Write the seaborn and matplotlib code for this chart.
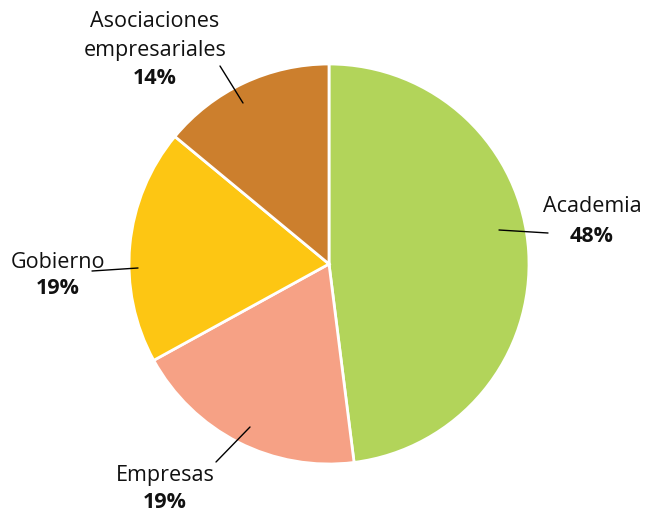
import matplotlib.pyplot as plt
import seaborn as sns

labels = ['Academia', 'Empresas', 'Gobierno', 'Asociaciones\nempresariales']
shares = [48, 19, 19, 14]
colors = ['#b2d45a', '#f6a185', '#fdc613', '#cc7f2d']

sns.set_theme(style='white')
plt.rcParams['font.family'] = ['Open Sans', 'DejaVu Sans']

fig = plt.figure(figsize=(6.47, 5.15), dpi=100)
ax = fig.add_axes([0, 0, 1, 1])

ax.pie(shares, colors=colors, startangle=90, counterclock=False,
       center=(329, 251), radius=200,
       wedgeprops=dict(edgecolor='white', linewidth=2))

# pie() resets the view, so fix the pixel-like frame afterwards
ax.set_xlim(0, 647)
ax.set_ylim(0, 515)
ax.set_aspect('equal')
ax.axis('off')

# label text anchor (name), percent position, leader line (pie end, text end)
label_pos = [(592, 308), (165, 40), (58, 253), (155, 479)]
pct_gap = [29, 28, 27, 43]
leaders = [((499, 285), (548, 282)), ((250, 88), (216, 53)),
           ((138, 247), (92, 244)), ((243, 412), (220, 449))]

for lab, val, (x, y), gap, (p0, p1) in zip(labels, shares, label_pos, pct_gap, leaders):
    ax.text(x, y, lab, ha='center', va='center', fontsize=15.5, color='#111111',
            linespacing=1.45)
    ax.text(x, y - gap, f'{val}%', ha='center', va='center', fontsize=15.5,
            fontweight='bold', color='#111111')
    ax.plot([p0[0], p1[0]], [p0[1], p1[1]], color='black', lw=1)

fig.savefig('out.png', dpi=100)
